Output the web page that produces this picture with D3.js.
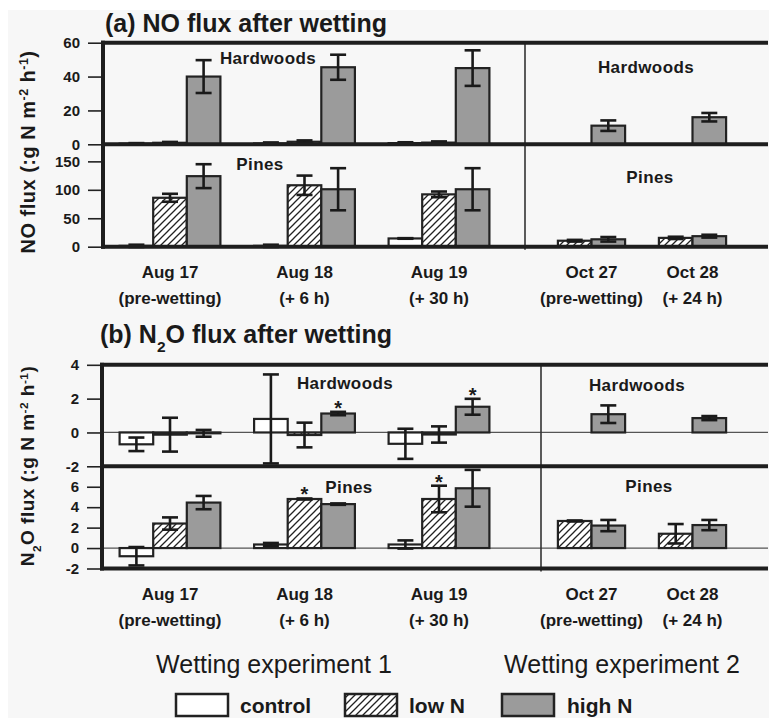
<!doctype html>
<html lang="en">
<head>
  <meta charset="utf-8">
  <title>NO and N2O flux after wetting</title>
  <script src="https://cdn.jsdelivr.net/npm/d3@7"></script>
  <style>
    body { margin: 0; background: #fff; }
    text { font-family: "Liberation Sans", Arial, sans-serif; fill: #1a1a1a; }
  </style>
</head>
<body>
<div id="chart"></div>
<script>
  'use strict';

  // ---- data ----
  var groupsExp1 = ["Aug 17", "Aug 18", "Aug 19"];
  var groupsExp2 = ["Oct 27", "Oct 28"];
  var groupSub = ["(pre-wetting)", "(+ 6 h)", "(+ 30 h)", "(pre-wetting)", "(+ 24 h)"];
  var treatments = ["control", "low N", "high N"];

  // one row per date: [control, low N, high N]
  var noHwMean = [[0.4, 0.9, 40], [0.5, 1.5, 45.5], [0.7, 1.0, 45], [null, null, 11], [null, null, 16]];
  var noHwErr  = [[0.3, 0.5, 9.7], [0.6, 0.8, 7.4], [0.5, 0.7, 10.5], [null, null, 3.1], [null, null, 2.5]];
  var noPineMean = [[1.5, 86, 124], [1.5, 108, 101], [14.5, 92, 101], [null, 10.5, 13], [null, 15.5, 18.5]];
  var noPineErr  = [[2, 7, 21], [2, 17, 37], [0.5, 5, 37], [null, 1.5, 4], [null, 2, 2.5]];

  var n2oHwMean = [[-0.7, -0.13, -0.05], [0.8, -0.15, 1.12], [-0.67, -0.12, 1.52], [null, null, 1.08], [null, null, 0.85]];
  var n2oHwErr  = [[0.4, 1.0, 0.2], [2.63, 0.73, 0.1], [0.89, 0.48, 0.47], [null, null, 0.52], [null, null, 0.12]];
  var n2oPineMean = [[-0.8, 2.4, 4.45], [0.35, 4.8, 4.3], [0.35, 4.8, 5.85], [null, 2.65, 2.2], [null, 1.4, 2.25]];
  var n2oPineErr  = [[0.9, 0.6, 0.65], [0.15, 0.05, 0.07], [0.4, 1.3, 1.8], [null, 0.05, 0.55], [null, 0.95, 0.5]];

  // [date index, treatment index] of bars marked with *
  var n2oHwStars = [[1, 2], [2, 2]];
  var n2oPineStars = [[1, 1], [2, 1]];

  var noHwTicks = [0, 20, 40, 60];
  var noPineTicks = [0, 50, 100, 150];
  var n2oHwTicks = [-2, 0, 2, 4];
  var n2oPineTicks = [-2, 0, 2, 4, 6];

  // ---- layout ----
  var WIDTH = 769, HEIGHT = 718;
  var RIGHT = 768;
  var BW = 33.6;
  var FILLS = { "control": "#ffffff", "low N": "url(#hatch)", "high N": "#9b9b9b" };

  var svg = d3.select("#chart").append("svg")
    .attr("width", WIDTH).attr("height", HEIGHT);

  var pat = svg.append("defs").append("pattern")
    .attr("id", "hatch").attr("patternUnits", "userSpaceOnUse")
    .attr("width", 7).attr("height", 7);
  pat.append("rect").attr("width", 7).attr("height", 7).attr("fill", "#fff");
  pat.append("path").attr("d", "M-1,1 l2,-2 M0,7 l7,-7 M6,8 l2,-2")
    .attr("stroke", "#222").attr("stroke-width", 1.3);

  svg.append("rect").attr("x", 8).attr("y", 10)
    .attr("width", WIDTH - 8).attr("height", HEIGHT - 10).attr("fill", "#f7f7f7");

  var allGroups = groupsExp1.concat(groupsExp2);
  var x1 = d3.scalePoint().domain(groupsExp1).range([170, 439]);
  var x2 = d3.scalePoint().domain(groupsExp2).range([591.5, 692.5]);
  var inner3 = d3.scaleBand().domain(treatments).range([-1.5 * BW, 1.5 * BW]);
  var inner2 = d3.scaleBand().domain(treatments.slice(1)).range([-BW, BW]);

  function groupX(gi) {
    return gi < 3 ? x1(allGroups[gi]) : x2(allGroups[gi]);
  }
  function barX(gi, ti) {
    return groupX(gi) + (gi < 3 ? inner3(treatments[ti]) : inner2(treatments[ti]));
  }

  function drawRow(row, yTop, yBot, axisX, zeroLine) {
    var y = d3.scaleLinear().domain(row.domain).range([yBot, yTop]);

    var ax = svg.append("g")
      .attr("transform", "translate(" + (axisX - 2) + ",0)")
      .call(d3.axisLeft(y).tickValues(row.ticks).tickSize(13).tickPadding(8)
        .tickFormat(function(d) { return String(d); }));
    ax.select(".domain").remove();
    ax.selectAll("line").attr("stroke", "#222").attr("stroke-width", 1.6);
    ax.selectAll("text")
      .style("font-family", "'Liberation Sans', Arial, sans-serif")
      .style("font-size", "15px").style("font-weight", "bold").attr("fill", "#1a1a1a");

    if (zeroLine) {
      svg.append("line").attr("x1", axisX).attr("x2", RIGHT)
        .attr("y1", y(0)).attr("y2", y(0))
        .attr("stroke", "#555").attr("stroke-width", 1.3);
    }

    var bars = [];
    row.mean.forEach(function(r, gi) {
      r.forEach(function(v, ti) {
        if (v !== null) bars.push({ gi: gi, ti: ti, v: v, e: row.err[gi][ti] });
      });
    });

    svg.append("g").selectAll("rect").data(bars).join("rect")
      .attr("x", function(d) { return barX(d.gi, d.ti); })
      .attr("width", BW)
      .attr("y", function(d) { return y(Math.max(0, d.v)); })
      .attr("height", function(d) { return Math.max(0.5, Math.abs(y(d.v) - y(0))); })
      .attr("fill", function(d) { return FILLS[treatments[d.ti]]; })
      .attr("stroke", "#222").attr("stroke-width", 2.2);

    var eb = svg.append("g").attr("stroke", "#1a1a1a").attr("stroke-width", 2.6);
    bars.forEach(function(d) {
      var cx = barX(d.gi, d.ti) + BW / 2;
      var lo = y(d.v - d.e), hi = y(d.v + d.e);
      eb.append("line").attr("x1", cx).attr("x2", cx).attr("y1", lo).attr("y2", hi);
      eb.append("line").attr("x1", cx - 8).attr("x2", cx + 8).attr("y1", lo).attr("y2", lo);
      eb.append("line").attr("x1", cx - 8).attr("x2", cx + 8).attr("y1", hi).attr("y2", hi);
    });

    (row.stars || []).forEach(function(s) {
      var v = row.mean[s[0]][s[1]], e = row.err[s[0]][s[1]];
      svg.append("text")
        .attr("x", barX(s[0], s[1]) + BW / 2).attr("y", y(v + e) + 3)
        .attr("text-anchor", "middle")
        .style("font-size", "20px").style("font-weight", "bold").text("*");
    });

    row.labels.forEach(function(l) {
      svg.append("text").attr("x", l[0]).attr("y", l[1])
        .attr("text-anchor", "middle")
        .style("font-size", "17px").style("font-weight", "bold")
        .style("letter-spacing", "0.4px").text(row.site);
    });
  }

  function drawPanel(p) {
    drawRow(p.rows[0], p.top, p.mid, p.axisX, p.zeroLine);
    drawRow(p.rows[1], p.mid, p.bottom, p.axisX, p.zeroLine);

    // frame
    svg.append("line").attr("x1", p.divider).attr("x2", p.divider)
      .attr("y1", p.top).attr("y2", p.bottom + 3)
      .attr("stroke", "#333").attr("stroke-width", 1.6);
    [p.top, p.mid, p.bottom].forEach(function(yy) {
      svg.append("line").attr("x1", p.axisX - 2).attr("x2", RIGHT)
        .attr("y1", yy).attr("y2", yy)
        .attr("stroke", "#1e1e1e").attr("stroke-width", 4);
    });
    svg.append("line").attr("x1", p.axisX).attr("x2", p.axisX)
      .attr("y1", p.top - 2).attr("y2", p.bottom + 2)
      .attr("stroke", "#1e1e1e").attr("stroke-width", 4);

    // date labels
    allGroups.forEach(function(g, gi) {
      var t = svg.append("text").attr("text-anchor", "middle")
        .style("font-size", "17px").style("font-weight", "bold");
      t.append("tspan").attr("x", groupX(gi)).attr("y", p.bottom + 31).text(g);
      t.append("tspan").attr("x", groupX(gi)).attr("y", p.bottom + 57).text(groupSub[gi]);
    });

    var title = svg.append("text").attr("x", p.titleX).attr("y", p.titleY)
      .style("font-size", "25px").style("font-weight", "bold");
    p.title(title);

    var yl = svg.append("text")
      .attr("transform", "translate(" + p.ylabX + "," + p.ylabY + ") rotate(-90)")
      .attr("text-anchor", "middle")
      .style("font-size", p.ylabSize + "px").style("font-weight", "bold")
      .style("letter-spacing", "0.5px");
    p.ylab(yl);
  }

  function unitLabel(t) {
    t.append("tspan").text(" flux (:g N m");
    t.append("tspan").attr("baseline-shift", "super").style("font-size", "0.62em").text("-2");
    t.append("tspan").text(" h");
    t.append("tspan").attr("baseline-shift", "super").style("font-size", "0.62em").text("-1");
    t.append("tspan").text(")");
  }

  drawPanel({
    top: 42.7, mid: 144.3, bottom: 246.7, axisX: 103, divider: 525, zeroLine: false,
    titleX: 105, titleY: 32,
    title: function(t) { t.text("(a) NO flux after wetting"); },
    ylabX: 35, ylabY: 152, ylabSize: 20,
    ylab: function(t) { t.append("tspan").text("NO"); unitLabel(t); },
    rows: [
      { domain: [0, 60], ticks: noHwTicks, mean: noHwMean, err: noHwErr,
        site: "Hardwoods", labels: [[268, 64], [646, 73]] },
      { domain: [0, 180], ticks: noPineTicks, mean: noPineMean, err: noPineErr,
        site: "Pines", labels: [[260, 170], [650, 183]] }
    ]
  });

  drawPanel({
    top: 364.8, mid: 466.3, bottom: 568.5, axisX: 102, divider: 541, zeroLine: true,
    titleX: 100, titleY: 343,
    title: function(t) {
      t.append("tspan").text("(b) N");
      t.append("tspan").attr("baseline-shift", "sub").style("font-size", "0.62em").text("2");
      t.append("tspan").text("O flux after wetting");
    },
    ylabX: 34, ylabY: 466, ylabSize: 19,
    ylab: function(t) {
      t.append("tspan").text("N");
      t.append("tspan").attr("baseline-shift", "sub").style("font-size", "0.62em").text("2");
      t.append("tspan").text("O");
      unitLabel(t);
    },
    rows: [
      { domain: [-2, 4], ticks: n2oHwTicks, mean: n2oHwMean, err: n2oHwErr, stars: n2oHwStars,
        site: "Hardwoods", labels: [[345, 389], [637, 391]] },
      { domain: [-2, 8], ticks: n2oPineTicks, mean: n2oPineMean, err: n2oPineErr, stars: n2oPineStars,
        site: "Pines", labels: [[349, 493], [649, 492]] }
    ]
  });

  // experiment captions
  [["Wetting experiment 1", 274], ["Wetting experiment 2", 622]].forEach(function(c) {
    svg.append("text").attr("x", c[1]).attr("y", 673).attr("text-anchor", "middle")
      .style("font-size", "25px").text(c[0]);
  });

  // legend
  var legendX = [[176, 240], [345, 409], [502, 567]];
  treatments.forEach(function(tr, i) {
    svg.append("rect").attr("x", legendX[i][0]).attr("y", 694)
      .attr("width", 52).attr("height", 22)
      .attr("fill", FILLS[tr]).attr("stroke", "#222").attr("stroke-width", 2.5);
    svg.append("text").attr("x", legendX[i][1]).attr("y", 713)
      .style("font-size", "21px").style("font-weight", "bold").text(tr);
  });
</script>
</body>
</html>
